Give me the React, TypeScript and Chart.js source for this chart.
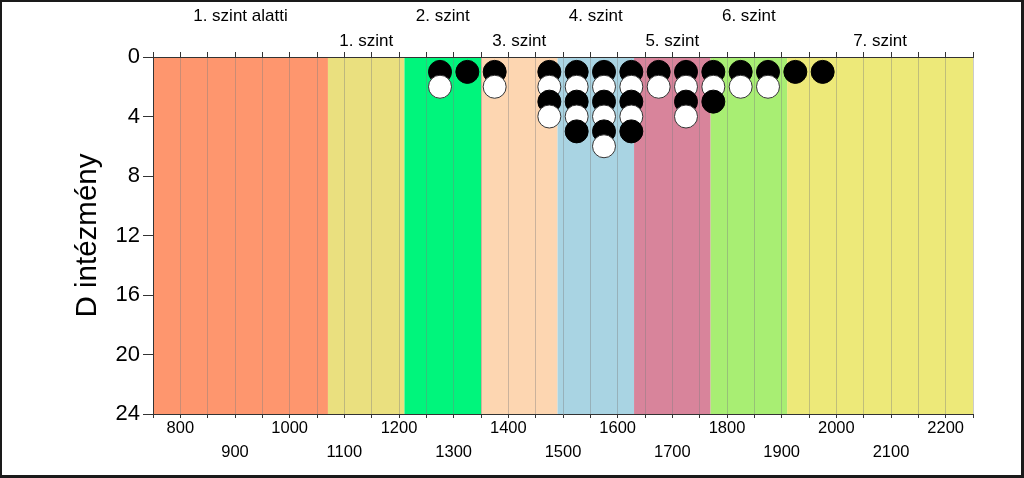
import React, { useEffect, useRef } from 'react';
import { Chart, registerables } from 'chart.js';

Chart.register(...registerables);

// ---- data ----
const bandEdges = [750, 1070, 1210, 1350, 1490, 1630, 1770, 1910, 2250];
const bandLabels = ['1. szint alatti', '1. szint', '2. szint', '3. szint', '4. szint', '5. szint', '6. szint', '7. szint'];
const bandColors = ['#FE966E', '#EAE07F', '#00F57C', '#FDD6B1', '#A9D4E3', '#D8849B', '#A8EE73', '#EDE979'];

const binCenters = [1275, 1325, 1375, 1475, 1525, 1575, 1625, 1675, 1725, 1775, 1825, 1875, 1925, 1975];
const blackCounts = [1, 1, 1, 2, 3, 3, 3, 1, 2, 2, 1, 1, 1, 1];
const whiteCounts = [1, 0, 1, 2, 2, 3, 2, 1, 2, 1, 1, 1, 0, 0];

const xMin = 750;
const xMax = 2250;
const xStep = 50;
const yMin = 0;
const yMax = 24;
const yStep = 4;
const yTitle = 'D intézmény';

const FONT = "'Liberation Sans', Arial, sans-serif";

export default function App() {
  const ref = useRef<HTMLCanvasElement | null>(null);

  useEffect(() => {
    document.body.style.margin = '0';
    const canvas = ref.current;
    if (!canvas) return;

    const points: { x: number; y: number }[] = [];
    const fills: string[] = [];
    const borders: string[] = [];
    binCenters.forEach((c, i) => {
      let level = 1;
      const n = Math.max(blackCounts[i], whiteCounts[i]);
      for (let k = 0; k < n; k++) {
        if (k < blackCounts[i]) {
          points.push({ x: c, y: level++ });
          fills.push('#000000');
          borders.push('#000000');
        }
        if (k < whiteCounts[i]) {
          points.push({ x: c, y: level++ });
          fills.push('#ffffff');
          borders.push('#333333');
        }
      }
    });

    const bandsPlugin = {
      id: 'bands',
      beforeDraw(chart: any) {
        const { ctx, chartArea } = chart;
        const xs = chart.scales.x;
        ctx.save();
        for (let i = 0; i < bandLabels.length; i++) {
          const x0 = xs.getPixelForValue(bandEdges[i]);
          const x1 = xs.getPixelForValue(bandEdges[i + 1]);
          ctx.fillStyle = bandColors[i];
          ctx.fillRect(x0, chartArea.top, x1 - x0, chartArea.bottom - chartArea.top);
        }
        ctx.restore();
      },
      afterDraw(chart: any) {
        const { ctx } = chart;
        const xs = chart.scales.x;
        ctx.save();
        ctx.font = `17px ${FONT}`;
        ctx.fillStyle = '#000';
        ctx.textAlign = 'center';
        ctx.textBaseline = 'middle';
        for (let i = 0; i < bandLabels.length; i++) {
          const x0 = xs.getPixelForValue(bandEdges[i]);
          const x1 = xs.getPixelForValue(bandEdges[i + 1]);
          const y = i % 2 === 0 ? 16 : 41;
          ctx.fillText(bandLabels[i], (x0 + x1) / 2, y);
        }
        ctx.restore();
      },
    };

    const chart = new Chart(canvas, {
      type: 'scatter',
      data: {
        datasets: [
          {
            data: points,
            pointRadius: 11.5,
            pointHoverRadius: 11.5,
            pointBackgroundColor: fills,
            pointBorderColor: borders,
            pointBorderWidth: 1,
          },
        ],
      },
      options: {
        animation: false,
        responsive: false,
        events: [],
        layout: { padding: { left: 0, right: 51, top: 52, bottom: 0 } },
        plugins: { legend: { display: false }, tooltip: { enabled: false } },
        scales: {
          x: {
            type: 'linear',
            position: 'bottom',
            min: xMin,
            max: xMax,
            afterFit: (s: any) => {
              s.height = 64;
            },
            border: { display: true, color: '#333', width: 1 },
            grid: {
              color: 'rgba(125,125,125,0.4)',
              tickColor: '#333',
              tickLength: 4,
              drawTicks: true,
              drawOnChartArea: true,
            },
            ticks: {
              stepSize: xStep,
              autoSkip: false,
              maxRotation: 0,
              minRotation: 0,
              padding: -2,
              color: '#000',
              font: { family: FONT, size: 16.5, lineHeight: 24 / 16.5 },
              callback: (v: any) => {
                const n = Number(v);
                if (n % 100 !== 0) return '';
                return (n / 100) % 2 === 0 ? [String(n), ''] : ['', String(n)];
              },
            },
          },
          xTop: {
            type: 'linear',
            position: 'top',
            min: xMin,
            max: xMax,
            afterFit: (s: any) => {
              s.height = 5;
            },
            border: { display: true, color: '#333', width: 1 },
            grid: {
              drawOnChartArea: false,
              drawTicks: true,
              tickLength: 5,
              tickColor: '#333',
            },
            ticks: { display: false, stepSize: xStep, autoSkip: false },
          },
          y: {
            type: 'linear',
            position: 'left',
            reverse: true,
            min: yMin,
            max: yMax,
            afterFit: (s: any) => {
              s.width = 153;
            },
            border: { display: true, color: '#333', width: 1 },
            grid: {
              drawOnChartArea: false,
              drawTicks: true,
              tickLength: 10,
              tickColor: '#333',
            },
            ticks: {
              stepSize: yStep,
              padding: 3,
              color: '#000',
              font: { family: FONT, size: 22 },
            },
            title: {
              display: true,
              text: yTitle,
              color: '#000',
              font: { family: FONT, size: 29.5 },
              padding: { top: 70, bottom: 0 },
            },
          },
        },
      },
      plugins: [bandsPlugin],
    } as any);

    return () => chart.destroy();
  }, []);

  return (
    <div style={{ position: 'relative', width: 1024, height: 478, background: '#fff' }}>
      <canvas ref={ref} width={1024} height={478} style={{ position: 'absolute', left: 0, top: 0 }} />
      <div
        style={{
          position: 'absolute',
          left: 0,
          top: 0,
          width: 1024,
          height: 478,
          boxSizing: 'border-box',
          borderLeft: '2px solid #1a1a1a',
          borderTop: '2px solid #1a1a1a',
          borderRight: '3px solid #1a1a1a',
          borderBottom: '3px solid #1a1a1a',
          pointerEvents: 'none',
        }}
      />
    </div>
  );
}
